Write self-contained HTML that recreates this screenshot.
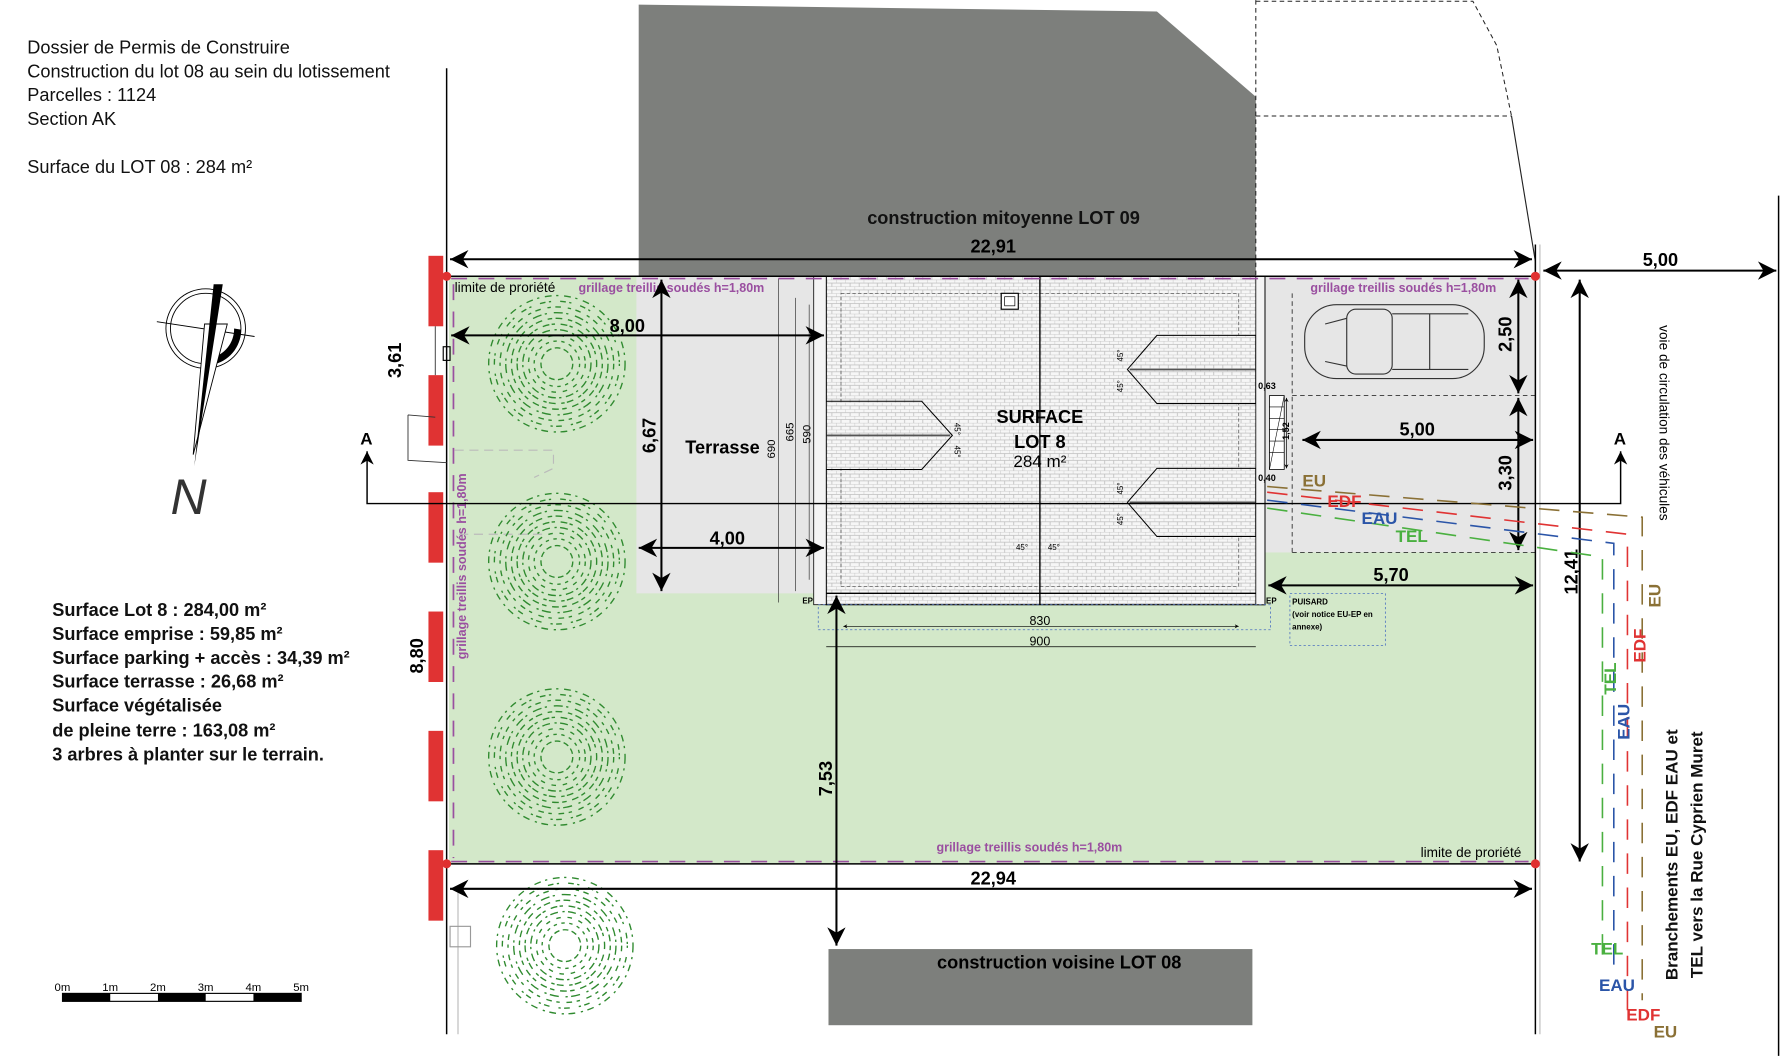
<!DOCTYPE html>
<html><head><meta charset="utf-8"><style>
html,body{margin:0;padding:0;background:#fff;}
svg{display:block;}
text{font-family:"Liberation Sans",sans-serif;}
</style></head><body>
<svg width="1782" height="1056" viewBox="0 0 1568 929" xmlns="http://www.w3.org/2000/svg">
<defs>
<pattern id="brick" width="8" height="6" patternUnits="userSpaceOnUse">
<rect width="8" height="6" fill="#f6f6f6"/>
<path d="M0 0H8M0 3H8M0 0V3M4 3V6" stroke="#bdbdbd" stroke-width="0.7" fill="none"/>
</pattern>
<marker id="ar" viewBox="0 0 10 10" refX="10" refY="5" markerWidth="9" markerHeight="9" orient="auto-start-reverse"><path d="M0 0L10 5L0 10L3 5z" fill="#000"/></marker>
<marker id="as" viewBox="0 0 10 10" refX="10" refY="5" markerWidth="6" markerHeight="6" orient="auto-start-reverse"><path d="M0 0L10 5L0 10L3 5z" fill="#000"/></marker>
<g id="tree" fill="none" stroke="#2f8a2f" stroke-width="1.2">
<circle r="60" stroke-dasharray="6 4 2 5"/><circle r="55" stroke-dasharray="2 8 5 3"/><circle r="50" stroke-dasharray="5 6 3 4"/><circle r="45" stroke-dasharray="8 3 2 6"/><circle r="40" stroke-dasharray="4 3 6 5"/><circle r="35" stroke-dasharray="3 5 6 2"/><circle r="30" stroke-dasharray="7 4 2 3"/><circle r="25" stroke-dasharray="4 6"/><circle r="20" stroke-dasharray="3 4"/><circle r="14" stroke-dasharray="5 3"/>
</g>
</defs>

<g font-size="16" fill="#111">
<text x="24" y="47">Dossier de Permis de Construire</text>
<text x="24" y="68">Construction du lot 08 au sein du lotissement</text>
<text x="24" y="89">Parcelles : 1124</text>
<text x="24" y="110">Section AK</text>
<text x="24" y="152">Surface du LOT 08  : 284 m²</text>
</g>
<g font-size="16" fill="#111" font-weight="bold">
<text x="46" y="542">Surface Lot 8 : 284,00 m²</text>
<text x="46" y="563">Surface emprise : 59,85 m²</text>
<text x="46" y="584">Surface parking + accès : 34,39 m²</text>
<text x="46" y="605">Surface terrasse : 26,68 m²</text>
<text x="46" y="626">Surface végétalisée</text>
<text x="46" y="648">de pleine terre : 163,08 m²</text>
<text x="46" y="669">3 arbres à planter sur le terrain.</text>
</g>

<g>
<circle cx="181" cy="289" r="35" fill="none" stroke="#000" stroke-width="0.8"/>
<circle cx="181" cy="289" r="31" fill="none" stroke="#000" stroke-width="0.8"/>
<line x1="138" y1="283" x2="224" y2="296" stroke="#000" stroke-width="0.8"/>
<path d="M212 290 A31 31 0 0 1 186 321 L185 315 A26 26 0 0 0 206 289z" fill="#000"/>
<polygon points="200,285 180,285 170,400" fill="#fff" stroke="#000" stroke-width="0.8"/>
<polygon points="188,250 196,250 171,410" fill="#000"/>
<text x="150" y="452" font-size="44" fill="#333" font-style="italic">N</text>
</g>

<g font-size="10" fill="#000">
<rect x="55" y="874" width="210" height="7" fill="#fff" stroke="#000"/>
<rect x="55" y="874" width="42" height="7" fill="#000"/>
<rect x="139" y="874" width="42" height="7" fill="#000"/>
<rect x="223" y="874" width="42" height="7" fill="#000"/>
<text x="48" y="872">0m</text><text x="90" y="872">1m</text><text x="132" y="872">2m</text><text x="174" y="872">3m</text><text x="216" y="872">4m</text><text x="258" y="872">5m</text>
</g>

<polygon points="562,4 1018,10 1105,85 1105,243 562,243" fill="#7d7f7c"/>
<g fill="none" stroke="#222" stroke-width="0.9" stroke-dasharray="4 3">
<path d="M1105 0V243M1105 1H1296L1317 40L1330 102M1105 102H1330"/>
</g>
<path d="M1330 102L1351 230V243" fill="none" stroke="#222" stroke-width="1"/>
<text x="883" y="197" font-size="16" font-weight="bold" text-anchor="middle" fill="#111">construction mitoyenne LOT 09</text>

<rect x="395" y="243" width="956" height="517" fill="#d3e8c9"/>
<rect x="560" y="243" width="167" height="279" fill="#e6e6e6"/>
<rect x="1113" y="243" width="238" height="243" fill="#e6e6e6"/>
<path d="M400 396H487V412L470 420" fill="none" stroke="#bbb" stroke-dasharray="8 5"/>
<path d="M404 470H480" fill="none" stroke="#bbb" stroke-dasharray="8 5"/>

<rect x="727" y="243" width="386" height="289" fill="url(#brick)" stroke="#000"/>
<rect x="740" y="258" width="350" height="258" fill="none" stroke="#444" stroke-width="0.6" stroke-dasharray="3 2"/>
<line x1="915" y1="243" x2="915" y2="532" stroke="#000" stroke-width="1.2"/>
<line x1="727" y1="522" x2="1105" y2="522" stroke="#000" stroke-width="1.2"/>
<g fill="url(#brick)" stroke="#000" stroke-width="0.9">
<polygon points="727,353 811,353 838,383 811,413 727,413"/>
<polygon points="1105,295 1018,295 992,325 1018,355 1105,355"/>
<polygon points="1105,412 1018,412 992,442 1018,472 1105,472"/>
</g>
<g stroke="#555" stroke-width="1.5"><line x1="727" y1="383" x2="836" y2="383"/><line x1="994" y1="325" x2="1105" y2="325"/><line x1="994" y1="442" x2="1105" y2="442"/></g>
<rect x="881" y="258" width="15" height="14" fill="#fff" stroke="#000"/><rect x="884" y="261" width="9" height="8" fill="none" stroke="#000" stroke-width="0.6"/>
<g font-size="7" fill="#000"><text x="840" y="372" transform="rotate(90 840 372)">45°</text><text x="840" y="392" transform="rotate(90 840 392)">45°</text>
<text x="988" y="318" transform="rotate(-90 988 318)">45°</text><text x="988" y="345" transform="rotate(-90 988 345)">45°</text>
<text x="988" y="435" transform="rotate(-90 988 435)">45°</text><text x="988" y="462" transform="rotate(-90 988 462)">45°</text>
<text x="894" y="484">45°</text><text x="922" y="484">45°</text></g>
<text x="915" y="372" font-size="16" font-weight="bold" text-anchor="middle">SURFACE</text>
<text x="915" y="394" font-size="16" font-weight="bold" text-anchor="middle">LOT 8</text>
<text x="915" y="411" font-size="15" text-anchor="middle">284 m²</text>
<rect x="716" y="243" width="11" height="289" fill="#f4f4f4" stroke="#000" stroke-width="0.7"/>
<rect x="1105" y="243" width="8" height="289" fill="#f4f4f4" stroke="#000" stroke-width="0.7"/>
<rect x="1117" y="348" width="13" height="65" fill="#fff" stroke="#000" stroke-width="0.7"/>
<g stroke="#000" stroke-width="0.5"><path d="M1117 358H1130M1117 368H1130M1117 378H1130M1117 388H1130M1117 398H1130M1130 348L1117 413"/></g>
<text x="706" y="531" font-size="7" font-weight="bold">EP</text>
<text x="1114" y="531" font-size="7" font-weight="bold">EP</text>
<text x="603" y="399" font-size="16" font-weight="bold">Terrasse</text>
<g font-size="10" fill="#000">
<text x="682" y="395" transform="rotate(-90 682 395)" text-anchor="middle">690</text>
<text x="698" y="380" transform="rotate(-90 698 380)" text-anchor="middle">665</text>
<text x="713" y="382" transform="rotate(-90 713 382)" text-anchor="middle">590</text>
</g>
<g stroke="#333" stroke-width="0.6"><line x1="685" y1="245" x2="685" y2="530"/><line x1="700" y1="262" x2="700" y2="520"/><line x1="712" y1="268" x2="712" y2="510"/></g>
<rect x="720" y="532" width="398" height="22" fill="none" stroke="#4a6fc0" stroke-width="0.7" stroke-dasharray="2 2"/>
<rect x="1135" y="522" width="84" height="46" fill="none" stroke="#4a6fc0" stroke-width="0.7" stroke-dasharray="2 2"/>
<g font-size="7" font-weight="bold"><text x="1137" y="532">PUISARD</text><text x="1137" y="543">(voir notice EU-EP en</text><text x="1137" y="554">annexe)</text></g>
<line x1="742" y1="551" x2="1090" y2="551" stroke="#000" stroke-width="0.6" marker-start="url(#as)" marker-end="url(#as)"/>
<line x1="727" y1="569" x2="1105" y2="569" stroke="#000" stroke-width="0.6"/>
<text x="915" y="550" font-size="11" text-anchor="middle">830</text>
<text x="915" y="568" font-size="11" text-anchor="middle">900</text>

<g fill="none" stroke="#333" stroke-width="1">
<rect x="1148" y="268" width="158" height="65" rx="28"/>
<rect x="1185" y="272" width="40" height="57" rx="8"/>
<path d="M1225 276H1292M1225 325H1292M1258 276V325M1166 285L1185 280M1166 318L1185 322"/>
</g>
<line x1="1137" y1="348" x2="1351" y2="348" stroke="#333" stroke-width="0.8" stroke-dasharray="4 3"/>
<line x1="1137" y1="258" x2="1137" y2="486" stroke="#333" stroke-width="0.8" stroke-dasharray="4 3"/>
<line x1="1137" y1="486" x2="1351" y2="486" stroke="#333" stroke-width="0.8" stroke-dasharray="4 3"/>

<use href="#tree" x="490" y="320"/><use href="#tree" x="490" y="494"/><use href="#tree" x="490" y="666"/><use href="#tree" x="497" y="832"/>

<g fill="none" stroke="#9a4fa0" stroke-width="1.5" stroke-dasharray="14 10">
<line x1="397" y1="245" x2="1345" y2="245"/><line x1="397" y1="758" x2="1345" y2="758"/><line x1="399" y1="250" x2="399" y2="755"/>
</g>
<g font-size="11" font-weight="bold" fill="#9a4fa0">
<text x="509" y="257">grillage treillis soudés h=1,80m</text>
<text x="1153" y="257">grillage treillis soudés h=1,80m</text>
<text x="824" y="749">grillage treillis soudés h=1,80m</text>
<text x="410" y="580" transform="rotate(-90 410 580)">grillage treillis soudés h=1,80m</text>
</g>
<text x="400" y="257" font-size="12">limite de proriété</text>
<text x="1250" y="754" font-size="12">limite de proriété</text>

<g stroke="#000" stroke-width="1.3" fill="none">
<line x1="393" y1="60" x2="393" y2="910"/>
<line x1="393" y1="243" x2="1351" y2="243"/>
<line x1="393" y1="760" x2="1351" y2="760"/>
<line x1="1351" y1="215" x2="1351" y2="910"/>
<line x1="1565" y1="172" x2="1565" y2="929"/>
</g>
<line x1="1355" y1="215" x2="1355" y2="910" stroke="#bbb"/>
<line x1="403" y1="780" x2="403" y2="910" stroke="#bbb"/>
<circle cx="393" cy="243" r="4" fill="#e03030"/><circle cx="1351" cy="243" r="4" fill="#e03030"/>
<circle cx="393" cy="760" r="4" fill="#e03030"/><circle cx="1351" cy="760" r="4" fill="#e03030"/>
<g fill="#e03333">
<rect x="377" y="225" width="13" height="62"/><rect x="377" y="330" width="13" height="62"/><rect x="377" y="433" width="13" height="62"/><rect x="377" y="538" width="13" height="62"/><rect x="377" y="643" width="13" height="62"/><rect x="377" y="748" width="13" height="62"/>
</g>
<path d="M383 287V330M359 365L383 367M359 365V405L393 407" fill="none" stroke="#333" stroke-width="0.8"/>
<rect x="390" y="305" width="6" height="12" fill="none" stroke="#000"/>

<path d="M323 397V443H1426V397" fill="none" stroke="#000" stroke-width="1.3" marker-start="url(#ar)" marker-end="url(#ar)"/>
<text x="317" y="391" font-size="15" font-weight="bold">A</text>
<text x="1420" y="391" font-size="15" font-weight="bold">A</text>

<g stroke="#000" stroke-width="1.8" fill="none" marker-start="url(#ar)" marker-end="url(#ar)">
<line x1="396" y1="228" x2="1348" y2="228"/>
<line x1="397" y1="295" x2="725" y2="295"/>
<line x1="582" y1="246" x2="582" y2="520"/>
<line x1="562" y1="482" x2="725" y2="482"/>
<line x1="736" y1="524" x2="736" y2="832"/>
<line x1="396" y1="782" x2="1348" y2="782"/>
<line x1="1358" y1="238" x2="1563" y2="238"/>
<line x1="1336" y1="246" x2="1336" y2="346"/>
<line x1="1336" y1="350" x2="1336" y2="484"/>
<line x1="1146" y1="387" x2="1349" y2="387"/>
<line x1="1116" y1="515" x2="1349" y2="515"/>
<line x1="1390" y1="246" x2="1390" y2="758"/>
</g>
<g font-size="16" font-weight="bold" fill="#000">
<text x="874" y="222" text-anchor="middle">22,91</text>
<text x="552" y="292" text-anchor="middle">8,00</text>
<text x="577" y="383" transform="rotate(-90 577 383)" text-anchor="middle">6,67</text>
<text x="640" y="479" text-anchor="middle">4,00</text>
<text x="732" y="685" transform="rotate(-90 732 685)" text-anchor="middle">7,53</text>
<text x="874" y="778" text-anchor="middle">22,94</text>
<text x="1461" y="234" text-anchor="middle">5,00</text>
<text x="1330" y="294" transform="rotate(-90 1330 294)" text-anchor="middle">2,50</text>
<text x="1330" y="416" transform="rotate(-90 1330 416)" text-anchor="middle">3,30</text>
<text x="1247" y="383" text-anchor="middle">5,00</text>
<text x="1224" y="511" text-anchor="middle">5,70</text>
<text x="1388" y="503" transform="rotate(-90 1388 503)" text-anchor="middle">12,41</text>
<text x="353" y="317" transform="rotate(-90 353 317)" text-anchor="middle">3,61</text>
<text x="372" y="577" transform="rotate(-90 372 577)" text-anchor="middle">8,80</text>
</g>
<g font-size="8" font-weight="bold"><text x="1107" y="342">0,63</text><text x="1107" y="423">0,40</text><text x="1134" y="387" transform="rotate(-90 1134 387)">1,52</text></g>
<line x1="1132" y1="350" x2="1132" y2="412" stroke="#000" stroke-width="0.6" marker-start="url(#as)" marker-end="url(#as)"/>

<g fill="none" stroke-width="1.4" stroke-dasharray="18 12">
<path d="M1115 428L1445 455V880" stroke="#8a7035"/>
<path d="M1115 433L1432 470V890" stroke="#e03333"/>
<path d="M1115 440L1420 478V860" stroke="#2b55a8"/>
<path d="M1115 447L1410 490V840" stroke="#4ab040"/>
</g>
<g font-size="15" font-weight="bold">
<text x="1146" y="428" fill="#8a7035">EU</text>
<text x="1168" y="446" fill="#e03333">EDF</text>
<text x="1198" y="461" fill="#2b55a8">EAU</text>
<text x="1228" y="477" fill="#4ab040">TEL</text>
<text x="1400" y="840" fill="#4ab040">TEL</text>
<text x="1407" y="872" fill="#2b55a8">EAU</text>
<text x="1431" y="898" fill="#e03333">EDF</text>
<text x="1455" y="913" fill="#8a7035">EU</text>
<text x="1422" y="597" fill="#4ab040" transform="rotate(-90 1422 597)" text-anchor="middle">TEL</text>
<text x="1434" y="635" fill="#2b55a8" transform="rotate(-90 1434 635)" text-anchor="middle">EAU</text>
<text x="1448" y="568" fill="#e03333" transform="rotate(-90 1448 568)" text-anchor="middle">EDF</text>
<text x="1461" y="524" fill="#8a7035" transform="rotate(-90 1461 524)" text-anchor="middle">EU</text>
<text x="1476" y="752" fill="#111" transform="rotate(-90 1476 752)" text-anchor="middle">Branchements EU, EDF EAU et</text>
<text x="1498" y="752" fill="#111" transform="rotate(-90 1498 752)" text-anchor="middle">TEL vers la Rue Cyprien Muret</text>
</g>
<text x="1460" y="372" font-size="12" transform="rotate(90 1460 372)" text-anchor="middle">voie de circulation des véhicules</text>

<rect x="729" y="835" width="373" height="67" fill="#7d7f7c"/>
<text x="932" y="852" font-size="16" font-weight="bold" text-anchor="middle">construction voisine LOT 08</text>
<rect x="396" y="815" width="18" height="18" fill="none" stroke="#999"/>
</svg>
</body></html>
